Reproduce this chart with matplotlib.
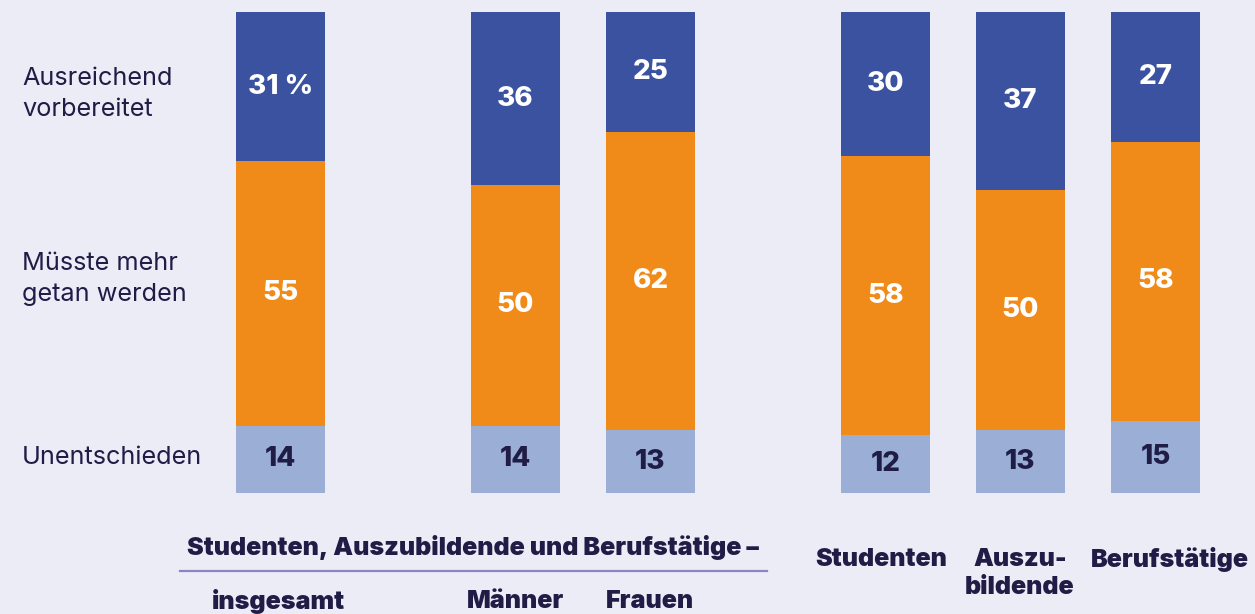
import matplotlib.pyplot as plt

# data (percent)
groups = ["insgesamt", "Männer", "Frauen", "Studenten", "Auszu-\nbildende", "Berufstätige"]
unentschieden = [14, 14, 13, 12, 13, 15]
mehr_getan = [55, 50, 62, 58, 50, 58]
ausreichend = [31, 36, 25, 30, 37, 27]
row_labels = ["Ausreichend\nvorbereitet", "Müsste mehr\ngetan werden", "Unentschieden"]
group_title = "Studenten, Auszubildende und Berufstätige –"

# layout (pixels)
W, H = 1255, 614
x_pos = [280.5, 515.5, 650.5, 885.5, 1020.5, 1155.5]
label_x = [278, 515, 650, 881, 1020, 1170]
label_y = [601, 601, 601, 559, 548, 559]
bar_w = 89
y_bottom, y_top = 493, 12

BG = "#ECECF7"
C_TOP = "#3A52A0"
C_MID = "#F08A18"
C_LOW = "#9AAED6"
DARK = "#1F1C46"

plt.rcParams['font.family'] = ['Inter', 'DejaVu Sans']

fig = plt.figure(figsize=(W / 100, H / 100), dpi=100, facecolor=BG)
ax = fig.add_axes([0, (H - y_bottom) / H, 1, (y_bottom - y_top) / H])
ax.set_facecolor(BG)
ax.set_xlim(0, W)
ax.set_ylim(0, 100)
ax.axis("off")

mid_bottom = unentschieden
top_bottom = [a + b for a, b in zip(unentschieden, mehr_getan)]
ax.bar(x_pos, unentschieden, width=bar_w, color=C_LOW)
ax.bar(x_pos, mehr_getan, bottom=mid_bottom, width=bar_w, color=C_MID)
ax.bar(x_pos, ausreichend, bottom=top_bottom, width=bar_w, color=C_TOP)

for i, x in enumerate(x_pos):
    top_txt = f"{ausreichend[i]} %" if i == 0 else str(ausreichend[i])
    ax.text(x, top_bottom[i] + ausreichend[i] / 2, top_txt, ha="center", va="center",
            color="white", fontsize=20, fontweight=800)
    ax.text(x, mid_bottom[i] + mehr_getan[i] / 2, str(mehr_getan[i]), ha="center",
            va="center", color="white", fontsize=20, fontweight=800)
    ax.text(x, unentschieden[i] / 2, str(unentschieden[i]), ha="center", va="center",
            color=DARK, fontsize=20, fontweight=800)

def fx(px):
    return px / W

def fy(py):
    return 1 - py / H

# row labels on the left
for lab, py in zip(row_labels, [94, 279, 457]):
    fig.text(fx(22), fy(py), lab, ha="left", va="center", color=DARK,
             fontsize=18.2, linespacing=1.4)

# bottom group labels
fig.text(fx(473), fy(548), group_title, ha="center", va="center", color=DARK,
         fontsize=18, fontweight=900)
fig.add_artist(plt.Line2D([fx(180), fx(767)], [fy(571), fy(571)], color="#8A86C0", lw=1.6))

for x, g, py in zip(label_x, groups, label_y):
    fig.text(fx(x), fy(py), g, ha="center", va="top" if "\n" in g else "center",
             color=DARK, fontsize=18, fontweight=900, linespacing=1.25)

fig.savefig("out.png", dpi=100, facecolor=BG)
